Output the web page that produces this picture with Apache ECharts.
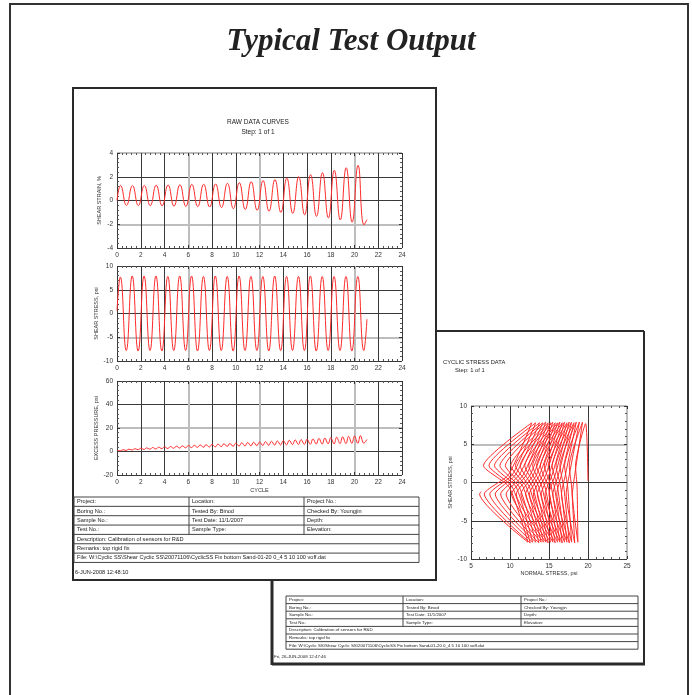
<!DOCTYPE html>
<html>
<head>
<meta charset="utf-8">
<title>Typical Test Output</title>
<script src="https://cdn.jsdelivr.net/npm/echarts@6/dist/echarts.min.js"></script>
<style>
  html, body { margin: 0; padding: 0; background: #fff; }
  #main { width: 692px; height: 695px; }
</style>
</head>
<body>
<div id="main"></div>
<script>
var cycles = [0, 1, 2, 3, 4, 5, 6, 7, 8, 9, 10, 11, 12, 13, 14, 15, 16, 17, 18, 19, 20];

// shear strain, % (peak / trough of each cycle)
var strainPeaks   = [1.27, 1.26, 1.27, 1.29, 1.31, 1.33, 1.36, 1.38, 1.4, 1.44, 1.49, 1.58, 1.68, 1.76, 1.88, 2.0, 2.17, 2.34, 2.54, 2.76, 2.96];
var strainTroughs = [-0.42, -0.43, -0.44, -0.45, -0.48, -0.5, -0.52, -0.55, -0.6, -0.68, -0.75, -0.82, -0.9, -1.0, -1.08, -1.2, -1.33, -1.46, -1.64, -1.83, -2.05];
var strainStart = [0, 0.0], strainEnd = [21.05, -1.6];

// shear stress, psi
var stressPeaks   = [7.7, 7.9, 7.9, 7.9, 7.8, 7.9, 7.9, 7.8, 7.9, 7.8, 7.9, 7.8, 7.8, 7.9, 7.8, 7.8, 7.9, 7.8, 7.8, 7.8, 7.8];
var stressTroughs = [-7.8, -7.9, -7.8, -7.9, -7.8, -7.8, -7.9, -7.8, -7.8, -7.9, -7.8, -7.8, -7.9, -7.8, -7.8, -7.8, -7.9, -7.8, -7.8, -7.9, -7.8];
var stressStart = [0, 0.6], stressEnd = [21.05, -1.2];

// excess pressure, psi (two swings per cycle)
var pressureTroughs = [0.6, 0.9, 1.2, 1.5, 1.7, 1.9, 2.1, 2.4, 2.5, 2.7, 2.9, 3.1, 3.3, 3.5, 3.6, 3.8, 3.9, 4.1, 4.3, 4.4, 4.6, 4.7, 4.8, 5.0, 5.1, 5.2, 5.4, 5.5, 5.6, 5.8, 5.9, 6.0, 6.1, 6.3, 6.3, 6.5, 6.5, 6.7, 6.7, 6.9, 6.9, 7.1];
var pressurePeaks   = [1.5, 2.0, 2.4, 2.8, 3.1, 3.4, 3.7, 4.0, 4.3, 4.5, 4.8, 5.1, 5.3, 5.6, 5.8, 6.1, 6.3, 6.6, 6.8, 7.1, 7.4, 7.6, 7.9, 8.1, 8.4, 8.7, 9.0, 9.3, 9.6, 9.9, 10.2, 10.5, 10.8, 11.2, 11.5, 11.8, 12.2, 12.5, 12.9, 13.2, 13.5];
var pressureStart = [0, 0.8], pressureEnd = [21.05, 10.2];

// cyclic stress path: normal stress, psi, at the turning points of each cycle
var pathTopX        = [19.7, 19.3, 18.9, 18.5, 18.2, 17.9, 17.6, 17.3, 17.0, 16.7, 16.4, 16.1, 15.8, 15.5, 15.2, 14.9, 14.6, 14.2, 13.8, 13.3, 12.8];
var pathUpperTipX   = [18.4, 17.6, 17.0, 16.4, 15.9, 15.4, 14.9, 14.4, 13.9, 13.4, 12.9, 12.4, 11.9, 11.3, 10.7, 10.1, 9.4, 8.7, 8.0, 7.3, 6.6];
var pathUpperExitX  = [18.6, 17.9, 17.4, 16.9, 16.5, 16.1, 15.7, 15.3, 14.9, 14.5, 14.1, 13.7, 13.3, 12.9, 12.5, 12.1, 11.7, 11.2, 10.8, 10.3, 9.9];
var pathBottomX     = [18.7, 18.3, 17.9, 17.6, 17.3, 17.0, 16.7, 16.4, 16.1, 15.8, 15.5, 15.2, 14.9, 14.6, 14.3, 14.0, 13.7, 13.3, 12.9, 12.6, 12.3];
var pathLowerTipX   = [18.0, 17.2, 16.6, 16.0, 15.5, 15.0, 14.5, 14.0, 13.5, 13.0, 12.5, 12.0, 11.4, 10.8, 10.2, 9.5, 8.8, 8.1, 7.4, 6.7, 6.1];
var pathLowerExitX  = [18.3, 17.6, 17.1, 16.6, 16.2, 15.8, 15.4, 15.0, 14.6, 14.2, 13.8, 13.4, 13.0, 12.6, 12.1, 11.7, 11.2, 10.7, 10.3, 9.8];
var upperTipShear = 2.2, upperExitShear = -0.6, lowerTipShear = -1.5, lowerExitShear = 1.0;
var pathStart = [20.0, 0.2], pathEnd = [6.3, -1.2];

// axis ranges [min, max, interval]
var cycleAxis = [0, 24, 2];
var strainAxis = [-4, 4, 2];
var stressAxis = [-10, 10, 5];
var pressureAxis = [-20, 60, 20];
var normalAxis = [5, 25, 5];
var shearAxis = [-10, 10, 5];

// info tables
var infoRows = [
  ['Project:', 'Location:', 'Project No.:'],
  ['Boring No.:', 'Tested By: Binod', 'Checked By: Youngjin'],
  ['Sample No.:', 'Test Date: 11/1/2007', 'Depth:'],
  ['Test No.:', 'Sample Type:', 'Elevation:'],
  ['Description: Calibration of sensors for R&D'],
  ['Remarks: top rigid fix'],
  ['File: W:\\Cyclic SS\\Shear Cyclic SS\\20071106\\CyclicSS Fix bottom Sand-01-20 0_4 5 10 100 voff.dat']
];

var RED = '#ff2a2a';
var INK = '#333';
var FONT = '"Liberation Sans", Arial, sans-serif';

// ---- build line data ----
var strainData = [strainStart], stressData = [stressStart], pressureData = [pressureStart], pathData = [pathStart];
cycles.forEach(function (c, k) {
  strainData.push([c + 0.3, strainPeaks[k]], [c + 0.8, strainTroughs[k]]);
  stressData.push([c + 0.28, stressPeaks[k]], [c + 0.78, stressTroughs[k]]);
  pathData.push([pathTopX[k], stressPeaks[k]], [pathUpperTipX[k], upperTipShear],
                [pathUpperExitX[k], upperExitShear], [pathBottomX[k], stressTroughs[k]],
                [pathLowerTipX[k], lowerTipShear]);
  if (k < pathLowerExitX.length) pathData.push([pathLowerExitX[k], lowerExitShear]);
});
pressureTroughs.forEach(function (v, h) {
  var c = cycles[h >> 1];
  pressureData.push([c + (h % 2 ? 0.78 : 0.28), v]);
  if (h < pressurePeaks.length) pressureData.push([c + (h % 2 ? 1.0 : 0.5), pressurePeaks[h]]);
});
strainData.push(strainEnd);
stressData.push(stressEnd);
pressureData.push(pressureEnd);
pathData.push(pathEnd);

// colours for split lines: the scan shows some grid lines faded grey and wider
function lineColors(r, grey, wantGrey) {
  var out = [];
  for (var v = r[0]; v <= r[1] + 1e-9; v += r[2]) {
    var isGrey = grey.indexOf(v) >= 0;
    out.push(isGrey === wantGrey ? (wantGrey ? '#bdbdbd' : '#3a3a3a') : 'rgba(0,0,0,0)');
  }
  return out;
}

var xAxes = [], yAxes = [];
function addAxes(g, xr, yr, xGrey, yGrey, opt) {
  var tick = { show: true, inside: true, length: 3, lineStyle: { color: INK, width: 1 } };
  var minor = { show: true, splitNumber: 5, length: 2, lineStyle: { color: '#555', width: 1 } };
  var lab = { fontSize: 6.5, color: INK, fontFamily: FONT, margin: 4 };
  var nameStyle = { fontSize: 5.5, color: INK, fontFamily: FONT };
  var noLine = { show: false, onZero: false };
  xAxes.push({
    gridIndex: g, type: 'value', position: 'bottom', min: xr[0], max: xr[1], interval: xr[2],
    axisLine: noLine, axisTick: tick, minorTick: minor, axisLabel: lab,
    splitLine: { show: true, lineStyle: { color: lineColors(xr, xGrey, false), width: 1 } },
    name: opt.xName || '', nameLocation: 'middle', nameGap: opt.xNameGap || 10, nameTextStyle: nameStyle
  });
  xAxes.push({
    gridIndex: g, type: 'value', position: 'top', min: xr[0], max: xr[1], interval: xr[2],
    axisLine: noLine, axisTick: tick, minorTick: minor, axisLabel: { show: false },
    splitLine: { show: true, lineStyle: { color: lineColors(xr, xGrey, true), width: 2 } }
  });
  yAxes.push({
    gridIndex: g, type: 'value', position: 'left', min: yr[0], max: yr[1], interval: yr[2],
    axisLine: noLine, axisTick: tick, minorTick: minor, axisLabel: lab,
    splitLine: { show: true, lineStyle: { color: lineColors(yr, yGrey, false), width: 1 } },
    name: opt.yName, nameLocation: 'middle', nameGap: opt.yNameGap || 15, nameRotate: 90, nameTextStyle: nameStyle
  });
  yAxes.push({
    gridIndex: g, type: 'value', position: 'right', min: yr[0], max: yr[1], interval: yr[2],
    axisLine: noLine, axisTick: tick, minorTick: minor, axisLabel: { show: false },
    splitLine: { show: true, lineStyle: { color: lineColors(yr, yGrey, true), width: 2 } }
  });
}

var grids = [
  { left: 117, top: 153, width: 285, height: 95 },
  { left: 117, top: 266, width: 285, height: 95 },
  { left: 117, top: 381, width: 285, height: 94 },
  { left: 471, top: 406, width: 156, height: 153 }
];
grids.forEach(function (g) { g.outerBoundsMode = 'none'; });

addAxes(0, cycleAxis, strainAxis, [6, 12, 20], [-2, 4], { yName: 'SHEAR STRAIN, %' });
addAxes(1, cycleAxis, stressAxis, [6, 12, 20], [-5], { yName: 'SHEAR STRESS, psi' });
addAxes(2, cycleAxis, pressureAxis, [6, 12, 20], [20], { yName: 'EXCESS PRESSURE, psi', xName: 'CYCLE', xNameGap: 12 });
addAxes(3, normalAxis, shearAxis, [25], [5, 10], { yName: 'SHEAR STRESS, psi', xName: 'NORMAL STRESS, psi', xNameGap: 10, yNameGap: 13 });

function curve(i, data, smooth) {
  return {
    type: 'line', xAxisIndex: 2 * i, yAxisIndex: 2 * i, data: data,
    showSymbol: false, smooth: smooth, silent: true, clip: true,
    lineStyle: { color: RED, width: 1 }
  };
}

// ---- sheet frames, titles and tables ----
var els = [];
function line(x1, y1, x2, y2, w, c) {
  els.push({ type: 'line', silent: true, shape: { x1: x1, y1: y1, x2: x2, y2: y2 },
             style: { stroke: c || INK, lineWidth: w || 1 } });
}
function text(x, y, s, size, align, font) {
  els.push({ type: 'text', silent: true,
             style: { x: x, y: y, text: s, fill: '#222', font: font || (size + 'px ' + FONT),
                      textAlign: align || 'left', align: align || 'left',
                      textVerticalAlign: 'middle', verticalAlign: 'middle' } });
}
function table(x0, x1, y0, rowH, cols, size) {
  var yEnd = y0 + rowH * infoRows.length;
  for (var r = 0; r <= infoRows.length; r++) line(x0, y0 + r * rowH, x1, y0 + r * rowH, 1, '#444');
  line(x0, y0, x0, yEnd, 1, '#444');
  line(x1, y0, x1, yEnd, 1, '#444');
  infoRows.forEach(function (row, r) {
    var ym = y0 + r * rowH + rowH / 2;
    row.forEach(function (s, c) {
      if (row.length > 1 && c > 0) line(cols[c], y0 + r * rowH, cols[c], y0 + (r + 1) * rowH, 1, '#444');
      text(cols[c] + 3, ym, s, size);
    });
  });
}

// page frame
els.push({ type: 'rect', silent: true, shape: { x: 10, y: 4, width: 678, height: 720 },
           style: { fill: 'none', stroke: '#333', lineWidth: 2 } });
text(351, 42, 'Typical Test Output', 31, 'center', 'italic bold 31px "Liberation Serif", "Times New Roman", serif');

// sheet 2 (behind sheet 1, only visible edges)
line(436, 331, 644, 331, 2, '#2a2a2a');
line(644, 331, 644, 664, 2, '#2a2a2a');
line(272, 664, 645, 664, 3, '#2a2a2a');
line(272, 580, 272, 665, 3, '#2a2a2a');
text(443, 362, 'CYCLIC STRESS DATA', 5.8);
text(455, 370, 'Step: 1 of 1', 5.8);
table(286, 638, 596, 7.6, [286, 403, 521], 4.4);
text(274, 657, 'Fri, 26-JUN-2008 12:47:46', 4.4);

// sheet 1
els.push({ type: 'rect', silent: true, shape: { x: 73, y: 88, width: 363, height: 492 },
           style: { fill: 'none', stroke: '#2a2a2a', lineWidth: 2 } });
text(258, 122, 'RAW DATA CURVES', 6.5, 'center');
text(258, 132, 'Step: 1 of 1', 6.5, 'center');
table(74, 419, 497, 9.35, [74, 189, 304], 5.6);
text(75, 572, '6-JUN-2008 12:48:10', 5.6);

var chart = echarts.init(document.getElementById('main'), null, { renderer: 'canvas' });
chart.setOption({
  animation: false,
  backgroundColor: '#fff',
  grid: grids,
  xAxis: xAxes,
  yAxis: yAxes,
  graphic: { elements: els },
  series: [
    curve(0, strainData, 0.5),
    curve(1, stressData, 0.5),
    curve(2, pressureData, 0.4),
    curve(3, pathData, 0.2)
  ]
});
</script>
</body>
</html>
